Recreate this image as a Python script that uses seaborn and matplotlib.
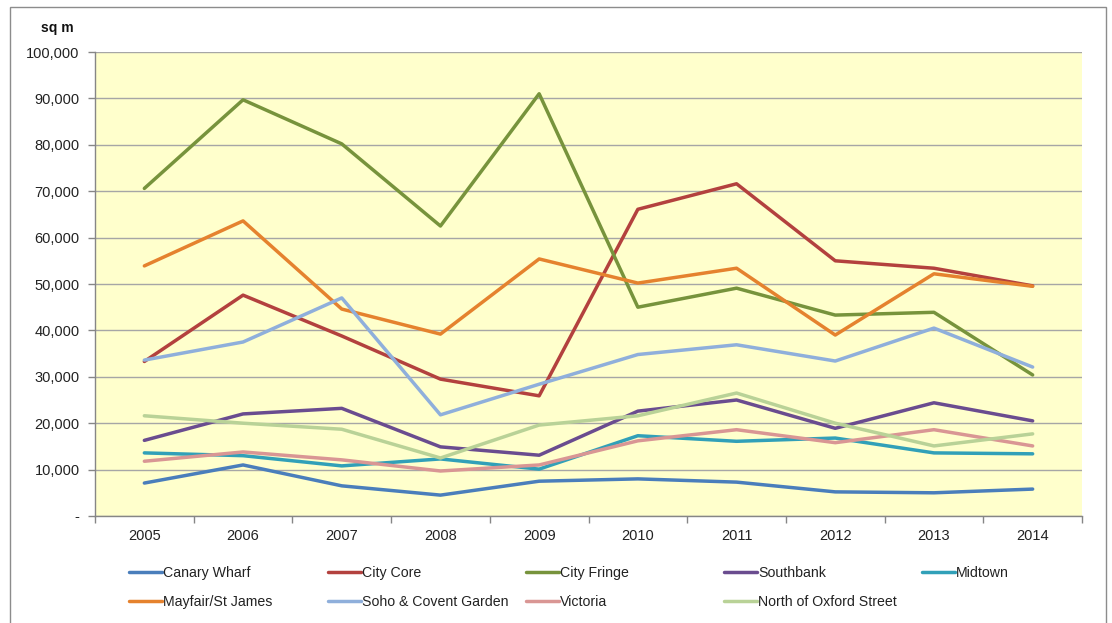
import matplotlib
matplotlib.use("Agg")
import matplotlib.pyplot as plt
import matplotlib.ticker as mticker
from matplotlib.patches import Rectangle
import seaborn as sns
import pandas as pd

years = ["2005", "2006", "2007", "2008", "2009", "2010", "2011", "2012", "2013", "2014"]

canary_wharf = [7100, 11000, 6500, 4500, 7500, 8000, 7300, 5200, 5000, 5800]
city_core = [33300, 47600, 38800, 29500, 25900, 66100, 71600, 55000, 53400, 49600]
city_fringe = [70600, 89700, 80200, 62500, 91000, 45000, 49100, 43300, 43900, 30400]
southbank = [16300, 22000, 23200, 14900, 13100, 22600, 25000, 18900, 24400, 20500]
midtown = [13600, 13000, 10800, 12300, 10100, 17300, 16100, 16800, 13600, 13400]
mayfair = [53900, 63600, 44600, 39200, 55400, 50200, 53400, 39000, 52200, 49500]
soho = [33600, 37500, 47000, 21800, 28400, 34800, 36900, 33400, 40500, 32100]
victoria = [11800, 13800, 12100, 9700, 11000, 16200, 18600, 15800, 18600, 15100]
north_oxford = [21600, 20000, 18700, 12500, 19600, 21600, 26500, 20000, 15100, 17700]

series = {
    "Canary Wharf": canary_wharf,
    "City Core": city_core,
    "City Fringe": city_fringe,
    "Southbank": southbank,
    "Midtown": midtown,
    "Mayfair/St James": mayfair,
    "Soho & Covent Garden": soho,
    "Victoria": victoria,
    "North of Oxford Street": north_oxford,
}
colors = ["#4A7EBB", "#B3413E", "#77933C", "#6A4C8F", "#31A0B8",
          "#E5822E", "#8FAFDB", "#D99694", "#B9D297"]

df = pd.DataFrame(series)
df["x"] = range(len(years))
long = df.melt(id_vars="x", var_name="area", value_name="sqm")

sns.set_theme(style="white")
plt.rcParams["font.family"] = ["Liberation Sans", "DejaVu Sans"]

fig = plt.figure(figsize=(11.12, 6.23), dpi=100)
ax = fig.add_axes([95 / 1112, 1 - 516 / 623, (1082 - 95) / 1112, (516 - 52) / 623])
ax.set_facecolor("#FFFFCC")

sns.lineplot(data=long, x="x", y="sqm", hue="area", palette=colors,
             linewidth=2.5, ax=ax, legend=False)

ax.set_xlim(-0.5, len(years) - 0.5)
ax.set_ylim(0, 100000)
ax.set_xlabel("")
ax.set_ylabel("")

# y axis
ax.yaxis.set_major_locator(mticker.MultipleLocator(10000))
ax.yaxis.set_major_formatter(mticker.FuncFormatter(
    lambda v, p: "-" if v == 0 else f"{int(v):,}"))
ax.grid(axis="y", color="#A6A6A6", linewidth=1)
ax.set_axisbelow(True)
ax.tick_params(axis="y", which="major", left=True, length=5, width=1,
               color="#868686", labelsize=10.5, labelcolor="#222222", pad=6)

# x axis: labels at centers, tick marks on category boundaries
ax.set_xticks(range(len(years)))
ax.set_xticklabels(years)
ax.set_xticks([i - 0.5 for i in range(len(years) + 1)], minor=True)
ax.tick_params(axis="x", which="major", bottom=False, length=0, labelsize=10.5,
               labelcolor="#222222", pad=9)
ax.tick_params(axis="x", which="minor", bottom=True, length=5, width=1,
               color="#868686")

for side in ["top", "right"]:
    ax.spines[side].set_visible(False)
for side in ["left", "bottom"]:
    ax.spines[side].set_color("#868686")
    ax.spines[side].set_linewidth(1)

fig.text(57 / 1112, 1 - 28 / 623, "sq m", fontsize=10, fontweight="bold",
         ha="center", va="center", color="#111111")

# legend: 5 columns, 2 rows, row-wise order like the original
names = list(series.keys())
handles = [plt.Line2D([], [], color=c, linewidth=2.5) for c in colors]
col_x = [122, 321, 519, 717, 915]
for ci, x0 in enumerate(col_x):
    idx = [i for i in (ci, ci + 5) if i < len(names)]
    fig.legend([handles[i] for i in idx], [names[i] for i in idx],
               loc="upper left", bbox_to_anchor=(x0 / 1112, 1 - 559 / 623),
               frameon=False, fontsize=10.2, handlelength=2.3,
               handletextpad=0.1, labelspacing=1.05, borderpad=0,
               labelcolor="#222222")

# outer chart frame
fig.patches.append(Rectangle((10 / 1112, -0.05), (1106 - 10) / 1112,
                             1.05 - 7 / 623, transform=fig.transFigure,
                             fill=False, edgecolor="#8C8C8C", linewidth=1))

fig.savefig("out.png", dpi=100)
